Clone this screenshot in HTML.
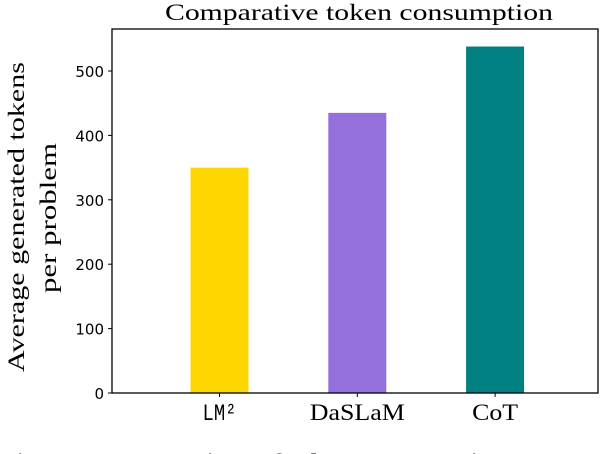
<!DOCTYPE html>
<html><head><meta charset="utf-8"><style>
html,body{margin:0;padding:0;background:#fff;width:602px;height:454px;overflow:hidden}
svg{display:block}
</style></head><body>
<svg id="chart" width="602" height="454">
<text x="359" y="20" text-anchor="middle" textLength="388" lengthAdjust="spacingAndGlyphs" font-family="Liberation Serif, serif" font-size="23">Comparative token consumption</text>
<g transform="translate(24,217) rotate(-90)">
<text x="0" y="0" text-anchor="middle" textLength="310" lengthAdjust="spacingAndGlyphs" font-family="Liberation Serif, serif" font-size="23">Average generated tokens</text>
<text x="-1" y="32" text-anchor="middle" textLength="150" lengthAdjust="spacingAndGlyphs" font-family="Liberation Serif, serif" font-size="23">per problem</text>
</g>
<g id="bars"></g><g id="yticks"></g><g id="xticks"></g>
<rect x="112" y="29" width="486" height="364" fill="none" stroke="#000" stroke-width="1.3"/>
<text x="0" y="469" textLength="602" lengthAdjust="spacingAndGlyphs" font-family="Liberation Serif, serif" font-weight="bold" font-size="22">Figure 2: Comparison of token consumption w.r.t. W</text>
</svg>
<script>
const categories=["LM²","DaSLaM","CoT"];
const values=[350,435,538];
const colors=["#FFD700","#9370DB","#008080"];
const yTicks=[0,100,200,300,400,500];
const labelWidths=[34,95,46];
const ns="http://www.w3.org/2000/svg";
const y0=393,pxPer=0.644;
function yScale(v){return y0-v*pxPer;}
function xScale(i){return 219.5+i*137.8;}
const bw=58;
function mk(t,a,p){const e=document.createElementNS(ns,t);for(const k in a)e.setAttribute(k,a[k]);p.appendChild(e);return e;}
const gb=document.getElementById('bars'),gy=document.getElementById('yticks'),gx=document.getElementById('xticks');
values.forEach((v,i)=>{
const r=mk('rect',{x:xScale(i)-bw/2,y:yScale(v),width:bw,height:y0-yScale(v),fill:colors[i]},gb);


const l=mk('line',{x1:xScale(i),x2:xScale(i),y1:y0,y2:y0+4,stroke:'#000'},gx);


const t=mk('text',{x:xScale(i),y:y0+27,'text-anchor':'middle',textLength:labelWidths[i],lengthAdjust:'spacingAndGlyphs','font-family':(i===0?'Liberation Mono, monospace':'Liberation Serif, serif'),'font-size':'23'},gx);
t.textContent=categories[i];


});
yTicks.forEach(v=>{
const l=mk('line',{x1:108,x2:112,y1:yScale(v),y2:yScale(v),stroke:'#000'},gy);


const t=mk('text',{x:104,y:yScale(v)+6,'text-anchor':'end','font-family':'DejaVu Sans, sans-serif','font-size':'15'},gy);
t.textContent=v;


});
</script>
</body></html>
